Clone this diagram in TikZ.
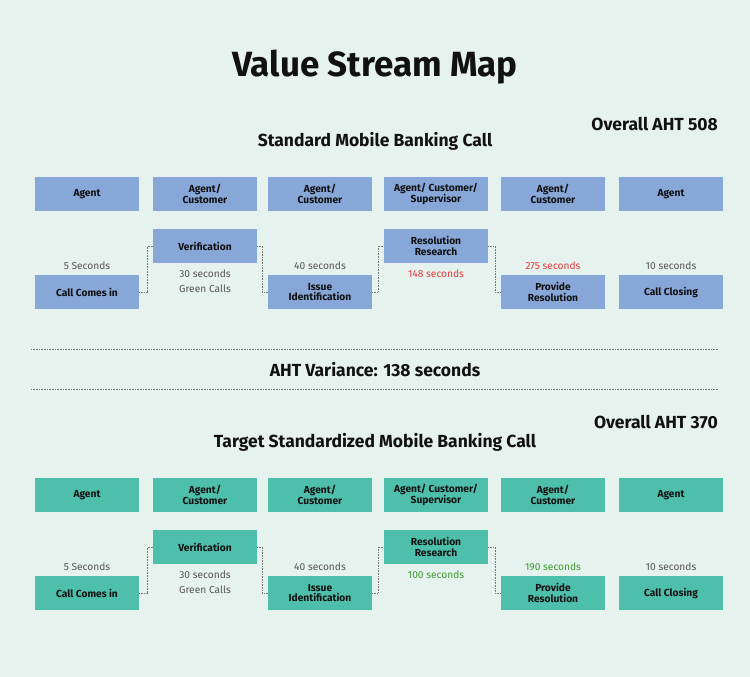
\documentclass[tikz,border=0pt]{standalone}
\usepackage{fontspec}
\setmainfont{Fira Sans}
\definecolor{bg}{HTML}{E6F2EE}
\definecolor{boxblue}{HTML}{87A7D9}
\definecolor{boxteal}{HTML}{4EBFAA}
\definecolor{txtgray}{HTML}{555555}
\definecolor{txtred}{HTML}{E03C3C}
\definecolor{txtgreen}{HTML}{3C9A2E}
\definecolor{ink}{HTML}{111111}
\definecolor{dotgray}{HTML}{777777}
\tikzset{
  box/.style={rectangle, minimum width=104pt, minimum height=34pt, inner sep=0pt, align=center,
    text=ink, font=\fontsize{10.2}{10.5}\selectfont\bfseries},
  bluebox/.style={box, fill=boxblue},
  tealbox/.style={box, fill=boxteal},
  lbl/.style={font=\fontsize{10.2}{15}\selectfont, text=txtgray, align=center, inner sep=0pt},
  conn/.style={draw=dotgray, densely dotted, line width=0.6pt},
  sep/.style={draw=dotgray, densely dotted, line width=0.6pt},
  head/.style={font=\fontsize{17.5}{19}\selectfont\bfseries, text=ink, inner sep=0pt},
}
\begin{document}
\begin{tikzpicture}[x=1pt,y=-1pt]
\fill[bg] (0,0) rectangle (750,677);
\useasboundingbox (0,0) rectangle (750,677);
\node[font=\fontsize{35}{38}\selectfont\bfseries, text=ink, inner sep=0pt] (title) at (375,67) {Value Stream Map};

% ---------- Section 1 ----------
\node[head, anchor=east] (aht1) at (718,124) {Overall AHT 508};
\node[head] (sub1) at (375,141) {Standard Mobile Banking Call};

\node[bluebox] (a1) at (87,194) {Agent};
\node[bluebox] (a2) at (205,194) {Agent/\\Customer};
\node[bluebox] (a3) at (320,194) {Agent/\\Customer};
\node[bluebox] (a4) at (436,194) {Agent/ Customer/\\Supervisor};
\node[bluebox] (a5) at (553,194) {Agent/\\Customer};
\node[bluebox] (a6) at (671,194) {Agent};

\node[bluebox] (ver1) at (205,246) {Verification};
\node[bluebox] (res1) at (436,246) {Resolution\\Research};
\node[bluebox] (cci1) at (87,292) {Call Comes in};
\node[bluebox] (iss1) at (320,292) {Issue\\Identification};
\node[bluebox] (pro1) at (553,292) {Provide\\Resolution};
\node[bluebox] (clo1) at (671,292) {Call Closing};

\node[lbl] (t11) at (87,266) {5 Seconds};
\node[lbl] (t12) at (205,281) {30 seconds\\Green Calls};
\node[lbl] (t13) at (320,266) {40 seconds};
\node[lbl, text=txtred] (t14) at (436,274) {148 seconds};
\node[lbl, text=txtred] (t15) at (553,266) {275 seconds};
\node[lbl] (t16) at (671,266) {10 seconds};

\draw[conn] (cci1.east) -- ++(8,0) |- (ver1.west);
\draw[conn] (ver1.east) -- ++(5,0) |- (iss1.west);
\draw[conn] (iss1.east) -- ++(6,0) |- (res1.west);
\draw[conn] (res1.east) -- ++(7,0) |- (pro1.west);

% ---------- Separator ----------
\coordinate (s1l) at (31,349); \coordinate (s1r) at (718,349);
\coordinate (s2l) at (31,389); \coordinate (s2r) at (718,389);
\draw[sep] (s1l) -- (s1r);
\draw[sep] (s2l) -- (s2r);
\node[head] (var) at (375,370) {AHT Variance: 138 seconds};

% ---------- Section 2 ----------
\node[head, anchor=east] (aht2) at (718,422) {Overall AHT 370};
\node[head] (sub2) at (375,442) {Target Standardized Mobile Banking Call};

\node[tealbox] (b1) at (87,495) {Agent};
\node[tealbox] (b2) at (205,495) {Agent/\\Customer};
\node[tealbox] (b3) at (320,495) {Agent/\\Customer};
\node[tealbox] (b4) at (436,495) {Agent/ Customer/\\Supervisor};
\node[tealbox] (b5) at (553,495) {Agent/\\Customer};
\node[tealbox] (b6) at (671,495) {Agent};

\node[tealbox] (ver2) at (205,547) {Verification};
\node[tealbox] (res2) at (436,547) {Resolution\\Research};
\node[tealbox] (cci2) at (87,593) {Call Comes in};
\node[tealbox] (iss2) at (320,593) {Issue\\Identification};
\node[tealbox] (pro2) at (553,593) {Provide\\Resolution};
\node[tealbox] (clo2) at (671,593) {Call Closing};

\node[lbl] (t21) at (87,567) {5 Seconds};
\node[lbl] (t22) at (205,582) {30 seconds\\Green Calls};
\node[lbl] (t23) at (320,567) {40 seconds};
\node[lbl, text=txtgreen] (t24) at (436,575) {100 seconds};
\node[lbl, text=txtgreen] (t25) at (553,567) {190 seconds};
\node[lbl] (t26) at (671,567) {10 seconds};

\draw[conn] (cci2.east) -- ++(8,0) |- (ver2.west);
\draw[conn] (ver2.east) -- ++(5,0) |- (iss2.west);
\draw[conn] (iss2.east) -- ++(6,0) |- (res2.west);
\draw[conn] (res2.east) -- ++(7,0) |- (pro2.west);
\end{tikzpicture}
\end{document}
